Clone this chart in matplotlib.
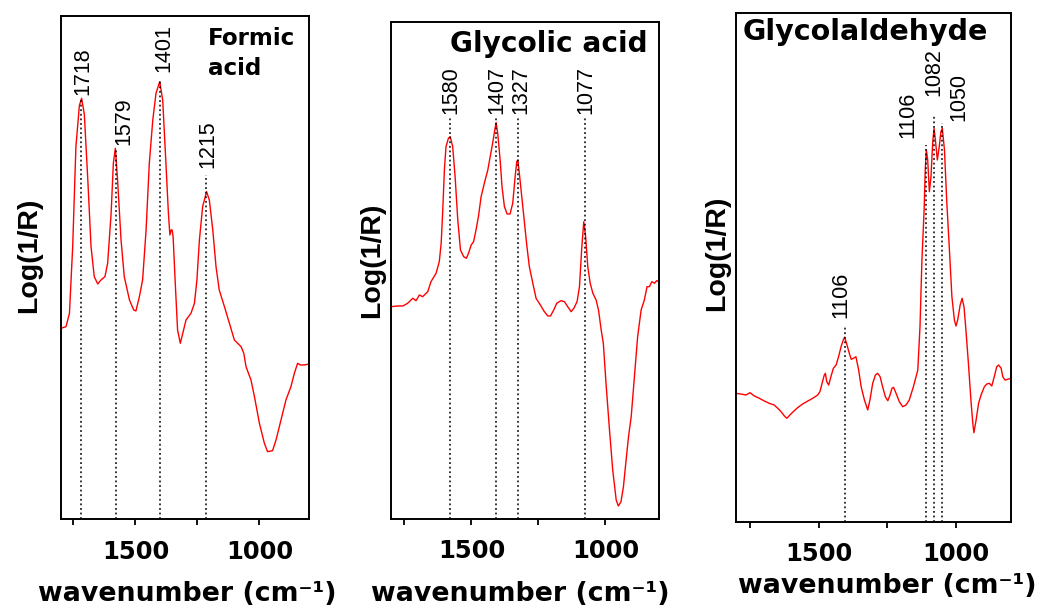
import matplotlib
matplotlib.use("Agg")
from matplotlib import pyplot as plt
from matplotlib.ticker import FixedLocator

# Log(1/R) spectra, arbitrary units, wavenumber in cm-1
formic_wn = [1800, 1780, 1766, 1753, 1740, 1726, 1717, 1706, 1692, 1679, 1666, 1652, 1639, 1623, 1612, 1598,
             1589, 1581, 1572, 1558, 1545, 1524, 1507, 1498, 1484, 1471, 1457, 1444, 1430, 1417, 1402, 1390,
             1377, 1367, 1361, 1356, 1352, 1348, 1340, 1330, 1319, 1309, 1296, 1276, 1262, 1252, 1242, 1229,
             1213, 1202, 1188, 1175, 1162, 1141, 1121, 1101, 1074, 1063, 1054, 1034, 1020, 1000, 980, 967,
             947, 933, 913, 893, 873, 859, 846, 835, 819, 800]
formic_abs = [191.2, 192.8, 206.2, 272.8, 372.8, 414.0, 421.2, 405.0, 339.5, 272.8, 242.8, 235.5, 239.5, 242.8,
              256.2, 306.2, 356.2, 371.2, 339.5, 279.5, 242.8, 219.5, 209.5, 208.5, 222.8, 239.5, 289.5, 356.2,
              399.5, 426.2, 437.8, 419.5, 356.2, 306.2, 284.5, 289.5, 289.5, 282.8, 239.5, 189.5, 176.2, 186.2,
              199.5, 206.2, 216.2, 239.5, 279.5, 312.8, 327.8, 319.5, 289.5, 252.8, 229.5, 212.8, 196.2, 179.5,
              172.8, 166.2, 152.8, 139.5, 122.8, 96.2, 76.2, 67.8, 68.8, 79.5, 99.5, 119.5, 132.8, 146.2,
              156.2, 154.5, 154.5, 155.5]

glycolic_wn = [1800, 1775, 1756, 1738, 1719, 1707, 1694, 1682, 1663, 1651, 1632, 1620, 1613, 1607, 1601, 1595,
               1586, 1579, 1570, 1561, 1551, 1541, 1529, 1519, 1511, 1501, 1492, 1483, 1474, 1464, 1452, 1439,
               1429, 1421, 1413, 1408, 1402, 1393, 1386, 1377, 1367, 1356, 1346, 1337, 1331, 1327, 1320, 1311,
               1302, 1293, 1284, 1271, 1259, 1243, 1228, 1215, 1205, 1193, 1182, 1166, 1153, 1141, 1128, 1118,
               1106, 1097, 1089, 1081, 1074, 1066, 1057, 1047, 1035, 1026, 1016, 1008, 998, 985, 973, 960,
               952, 942, 933, 923, 914, 904, 892, 880, 867, 855, 845, 836, 827, 817, 809, 800]
glycolic_abs = [212.0, 212.7, 212.7, 215.4, 220.4, 218.0, 223.7, 222.0, 227.0, 237.0, 245.4, 257.0, 275.4, 308.7,
                348.7, 372.0, 380.4, 382.0, 372.0, 342.0, 298.7, 268.7, 262.0, 260.4, 265.4, 273.7, 277.0, 288.7,
                302.0, 322.0, 335.4, 348.7, 363.7, 375.4, 388.7, 396.0, 385.4, 358.7, 332.0, 312.0, 304.7, 304.7,
                315.4, 342.0, 357.0, 358.7, 342.0, 318.7, 295.4, 272.0, 252.0, 235.4, 220.4, 213.7, 207.0, 202.7,
                202.7, 208.7, 215.4, 218.0, 217.0, 212.0, 207.0, 210.4, 217.0, 232.0, 268.7, 297.0, 282.0, 252.0,
                235.4, 225.4, 218.7, 208.7, 188.7, 175.4, 135.4, 88.7, 48.7, 18.7, 12.7, 17.0, 32.0, 58.7,
                82.0, 102.0, 142.0, 182.0, 208.7, 218.7, 232.0, 232.0, 237.0, 235.4, 238.0, 237.0]

glycolaldehyde_wn = [1800, 1782, 1764, 1749, 1733, 1715, 1697, 1679, 1661, 1648, 1636, 1624, 1615, 1604, 1592,
                     1576, 1558, 1539, 1521, 1503, 1495, 1487, 1479, 1475, 1470, 1463, 1455, 1446, 1436, 1427,
                     1418, 1410, 1405, 1398, 1388, 1381, 1373, 1364, 1354, 1345, 1333, 1321, 1313, 1303, 1293,
                     1285, 1276, 1267, 1257, 1248, 1240, 1233, 1227, 1218, 1206, 1194, 1182, 1170, 1155, 1139,
                     1131, 1124, 1116, 1112, 1108, 1103, 1097, 1091, 1085, 1080, 1075, 1068, 1061, 1055, 1050,
                     1042, 1034, 1024, 1015, 1006, 1000, 994, 985, 978, 971, 964, 955, 945, 939, 935,
                     927, 918, 909, 897, 888, 879, 870, 861, 852, 845, 836, 830, 822, 812, 800]
glycolaldehyde_abs = [128.9, 128.2, 127.2, 129.5, 126.2, 123.9, 121.2, 118.9, 117.2, 113.9, 110.5, 106.2, 103.9,
                      107.2, 110.5, 114.5, 118.2, 121.2, 123.9, 127.2, 130.5, 138.9, 147.2, 148.9, 140.5, 137.2,
                      145.5, 153.9, 157.2, 165.5, 175.5, 182.2, 184.9, 178.9, 168.9, 162.9, 163.9, 165.5, 152.2,
                      135.5, 122.2, 112.2, 122.2, 138.9, 147.2, 148.9, 145.5, 135.5, 125.5, 121.5, 127.2, 133.9,
                      134.9, 128.9, 120.5, 115.5, 117.2, 122.2, 135.5, 152.2, 195.5, 262.2, 312.2, 352.2, 372.2,
                      362.2, 330.5, 345.5, 378.9, 393.9, 382.2, 362.2, 375.5, 390.5, 393.9, 372.2, 322.2, 272.2,
                      225.5, 202.2, 196.2, 202.2, 217.2, 223.9, 215.5, 192.2, 158.9, 118.9, 98.9, 89.5, 102.2,
                      118.9, 127.2, 135.5, 138.2, 138.9, 136.2, 145.5, 155.5, 157.2, 153.9, 145.5, 142.2, 142.9,
                      143.9]

# marked bands: where the dotted line sits and the text written on it
formic_peaks = [1718, 1579, 1401, 1215]
formic_labels = ["1718", "1579", "1401", "1215"]
glycolic_peaks = [1580, 1407, 1327, 1077]
glycolic_labels = ["1580", "1407", "1327", "1077"]
glycolaldehyde_peaks = [1405, 1108, 1080, 1050]
glycolaldehyde_labels = ["1106", "1106", "1082", "1050"]

x_ticks = [1500, 1000]
x_minor = [1750, 1250]

BOLD = "DejaVu Sans"
ARIAL = "Liberation Sans"
DOTS = (0, (1.2, 1.8))


def draw_panel(ax, wn, absorb, peaks, labels, line_tops, label_spots, ymax):
    ax.plot(wn, absorb, color="#ff0000", lw=1.0)
    for peak, text, top, (lx, ly) in zip(peaks, labels, line_tops, label_spots):
        ax.plot([peak, peak], [0, top], color="black", lw=1.1, ls=DOTS)
        ax.text(lx, ly, text, rotation=90, ha="center", va="bottom",
                fontsize=15.5, family=ARIAL)
    ax.set_xlim(1800, 800)
    ax.set_ylim(0, ymax)
    ax.xaxis.set_major_locator(FixedLocator(x_ticks))
    ax.xaxis.set_minor_locator(FixedLocator(x_minor))
    ax.set_xticklabels([str(t) for t in x_ticks], fontsize=17.5, fontweight="bold", family=BOLD)
    ax.tick_params(axis="x", which="both", direction="out", length=4, width=1.3, pad=10.5)
    ax.set_yticks([])
    for spine in ax.spines.values():
        spine.set_linewidth(1.4)
    ax.set_ylabel("Log(1/R)", fontsize=20.5, fontweight="bold", family=ARIAL)
    ax.set_xlabel("wavenumber (cm⁻¹)", fontsize=19.3, fontweight="bold", family=BOLD)


def main():
    fig = plt.figure(figsize=(10.45, 6.11), dpi=100)

    ax1 = fig.add_axes([0.0584, 0.1498, 0.2373, 0.8234])
    draw_panel(ax1, formic_wn, formic_abs, formic_peaks, formic_labels,
               [421.5, 371.5, 439.5, 344.5],
               [(1711, 424.5), (1548, 374.5), (1385, 447.5), (1207, 351.5)], 503.1)
    ax1.text(0.593, 0.9785, "Formic\nacid", transform=ax1.transAxes, ha="left", va="top",
             fontsize=16.6, fontweight="bold", family=BOLD, linespacing=1.4)
    ax1.yaxis.set_label_coords(-0.078, 0.526)
    ax1.xaxis.set_label_coords(0.51, -0.122)

    ax2 = fig.add_axes([0.3742, 0.1511, 0.2565, 0.8126])
    draw_panel(ax2, glycolic_wn, glycolic_abs, glycolic_peaks, glycolic_labels,
               [401.7, 401.7, 401.7, 401.7],
               [(1576, 405), (1404, 405), (1315, 405), (1072, 405)], 496.5)
    ax2.text(0.959, 0.939, "Glycolic acid", transform=ax2.transAxes, ha="right", va="baseline",
             fontsize=20.2, fontweight="bold", family=BOLD)
    ax2.yaxis.set_label_coords(-0.022, 0.521)
    ax2.xaxis.set_label_coords(0.483, -0.125)

    ax3 = fig.add_axes([0.7043, 0.1453, 0.2632, 0.8336])
    draw_panel(ax3, glycolaldehyde_wn, glycolaldehyde_abs, glycolaldehyde_peaks, glycolaldehyde_labels,
               [195.2, 377.2, 407.2, 399.2],
               [(1418, 204.2), (1175, 384.2), (1082, 426), (989, 401)], 509.3)
    ax3.text(0.025, 0.946, "Glycolaldehyde", transform=ax3.transAxes, ha="left", va="baseline",
             fontsize=20.5, fontweight="bold", family=BOLD)
    ax3.yaxis.set_label_coords(-0.022, 0.528)
    ax3.xaxis.set_label_coords(0.551, -0.100)

    fig.savefig("out.png", dpi=100)


if __name__ == '__main__':
    main()
